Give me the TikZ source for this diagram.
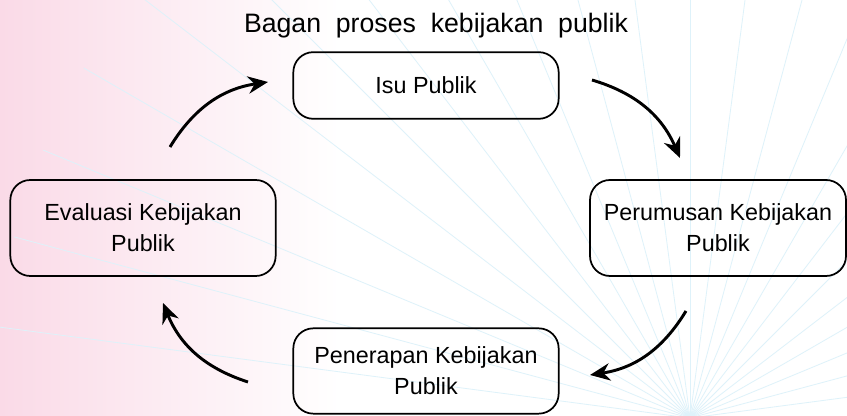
\documentclass[tikz,border=0pt]{standalone}
\usepackage{fontspec}
\setmainfont{Liberation Sans}
\usetikzlibrary{arrows.meta}
\definecolor{pinkbg}{RGB}{250,218,231}
\definecolor{raycol}{RGB}{222,242,250}
\begin{document}
\begin{tikzpicture}[x=0.75pt, y=0.75pt, thick,
    step box/.style={rectangle, rounded corners=15pt, draw, line width=1.3pt, align=center, inner sep=0pt,
        minimum width=199pt, minimum height=50pt, font=\fontsize{17.5}{23}\selectfont},
    flow/.style={line width=2.2pt, -{Stealth[length=15pt, width=13pt]}}]

                % background
                \fill[white] (0,0) rectangle (847,416);
                \shade[left color=pinkbg, right color=white] (0,0) rectangle (340,416);
                \begin{scope}
                \clip (0,0) rectangle (847,416);
                \foreach \a in {0,7.5,...,180}
                    \draw[raycol, line width=0.6pt] (690,-2) -- ++(\a:700);
                \end{scope}
                \useasboundingbox (0,0) rectangle (847,416);

                \node at (436,390) (title) {\fontsize{20}{22}\selectfont Bagan \ proses \ kebijakan \ publik};

                \node[step box] at (426,330.5) (isu) {Isu Publik};
                \node[step box, minimum width=192pt, minimum height=72pt] at (718,188) (rumus) {Perumusan Kebijakan\\Publik};
                \node[step box, minimum height=64pt] at (426,45) (terap) {Penerapan Kebijakan\\Publik};
                \node[step box, minimum height=72pt] at (143,188) (eval) {Evaluasi Kebijakan\\Publik};

                \coordinate (e1) at (170,269);
                \coordinate (i1) at (268,334);
                \coordinate (i2) at (592,336);
                \coordinate (r1) at (680,258);
                \coordinate (r2) at (686,105);
                \coordinate (t1) at (590,41);
                \coordinate (t2) at (248,34);
                \coordinate (e2) at (163,113);

                \draw[flow] (e1) to[bend left=25] (i1);
                \draw[flow] (i2) to[bend left=25] (r1);
                \draw[flow] (r2) to[bend left=25] (t1);
                \draw[flow] (t2) to[bend left=25] (e2);
            \end{tikzpicture}
\end{document}
